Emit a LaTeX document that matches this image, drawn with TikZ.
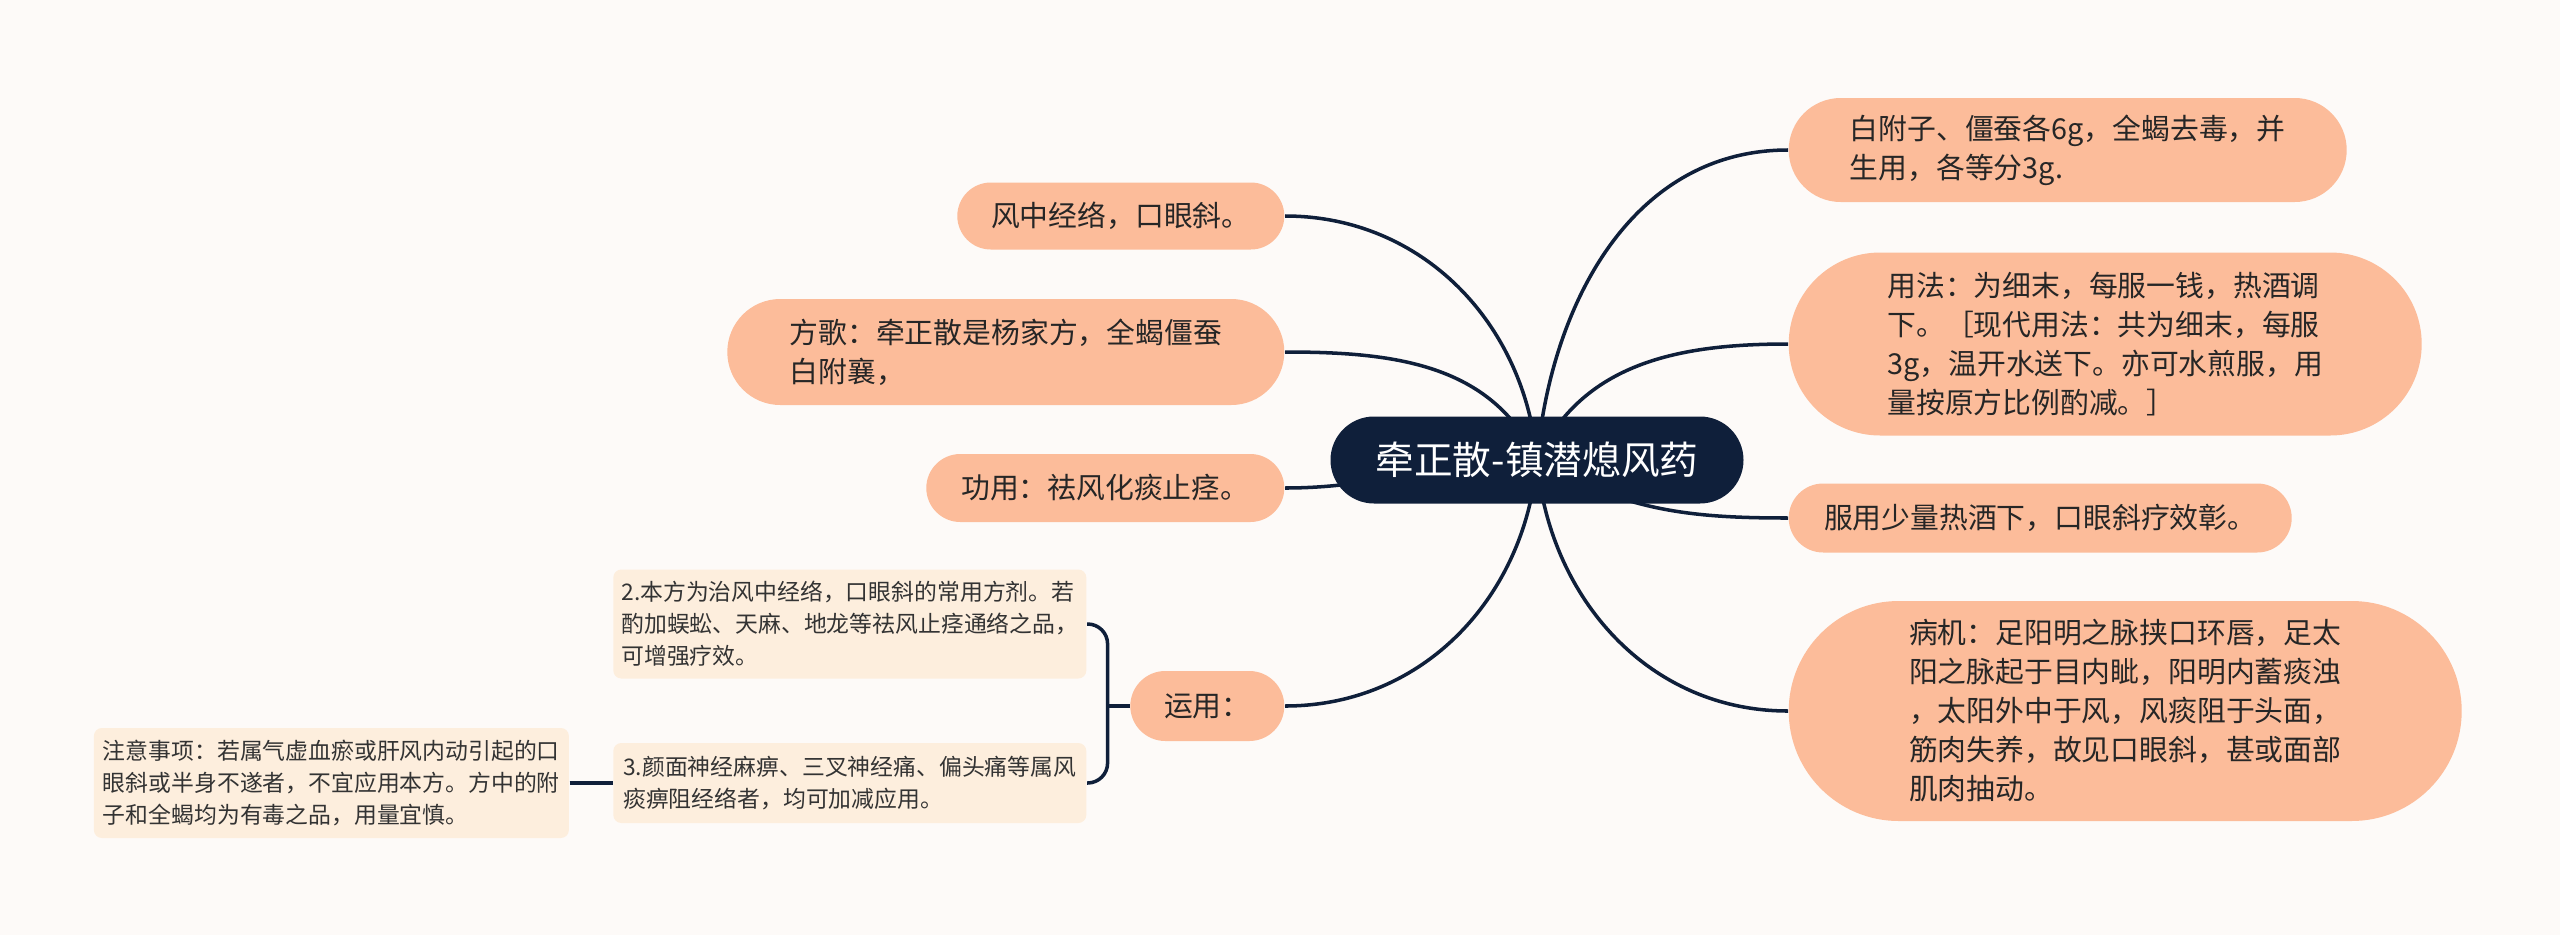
\documentclass[tikz,border=0pt]{standalone}
\usepackage{fontspec}
\setmainfont{Noto Sans CJK SC}
\usetikzlibrary{shapes.misc,positioning,backgrounds}
\definecolor{mapnavy}{HTML}{0F1F3A}
\definecolor{mappeach}{HTML}{FCBC9A}
\definecolor{mapcream}{HTML}{FDEEDD}
\definecolor{mappaper}{HTML}{FDFAF8}
\tikzset{
  rootbox/.style={rounded rectangle, fill=mapnavy, text=white, minimum width=4.13cm, minimum height=0.87cm, inner sep=0pt, font=\fontsize{11}{13}\selectfont},
  leaf/.style={rounded rectangle, fill=mappeach, text=black!85, inner sep=0pt, align=left, font=\fontsize{8.2}{11.1}\selectfont},
  note/.style={rectangle, rounded corners=0.08cm, fill=mapcream, text=black!80, inner sep=0pt, align=left, font=\fontsize{6.5}{9.1}\selectfont},
  link/.style={draw=mapnavy, line width=1pt}
}

\begin{document}
\begin{tikzpicture}
  \useasboundingbox (0,0) rectangle (25.6,-9.35);

  % centre topic
  \node[rootbox] (root) at (15.37,-4.60) {牵正散-镇潜熄风药};

  % right branches
  \node[leaf, anchor=west, minimum width=5.58cm, minimum height=1.04cm] (dose) at (17.88,-1.50)
    {白附子、僵蚕各6g，全蝎去毒，并\\生用，各等分3g.};
  \node[leaf, anchor=west, minimum width=6.33cm, minimum height=1.83cm] (usage) at (17.88,-3.44)
    {用法：为细末，每服一钱，热酒调\\下。［现代用法：共为细末，每服\\3g，温开水送下。亦可水煎服，用\\量按原方比例酌减。］};
  \node[leaf, anchor=west, minimum width=5.03cm, minimum height=0.69cm] (effect) at (17.88,-5.18)
    {服用少量热酒下，口眼斜疗效彰。};
  \node[leaf, anchor=west, minimum width=6.73cm, minimum height=2.20cm] (cause) at (17.88,-7.11)
    {病机：足阳明之脉挟口环唇，足太\\阳之脉起于目内眦，阳明内蓄痰浊\\，太阳外中于风，风痰阻于头面，\\筋肉失养，故见口眼斜，甚或面部\\肌肉抽动。};

  % left branches
  \node[leaf, anchor=east, minimum width=3.27cm, minimum height=0.67cm] (zheng) at (12.85,-2.16)
    {风中经络，口眼斜。};
  \node[leaf, anchor=east, minimum width=5.57cm, minimum height=1.06cm] (song) at (12.85,-3.52)
    {方歌：牵正散是杨家方，全蝎僵蚕\\白附襄，};
  \node[leaf, anchor=east, minimum width=3.58cm, minimum height=0.68cm] (gong) at (12.85,-4.88)
    {功用：祛风化痰止痉。};
  \node[leaf, anchor=east, minimum width=1.54cm, minimum height=0.70cm] (yun) at (12.85,-7.06)
    {运用：};

  % sub topics of yun
  \node[note, anchor=east, minimum width=4.73cm, minimum height=1.09cm] (use2) at (10.87,-6.24)
    {2.本方为治风中经络，口眼斜的常用方剂。若\\酌加蜈蚣、天麻、地龙等祛风止痉通络之品，\\可增强疗效。};
  \node[note, anchor=east, minimum width=4.73cm, minimum height=0.80cm] (use3) at (10.87,-7.83)
    {3.颜面神经麻痹、三叉神经痛、偏头痛等属风\\痰痹阻经络者，均可加减应用。};
  \node[note, minimum width=4.75cm, minimum height=1.10cm, left=0.43cm of use3] (caution)
    {注意事项：若属气虚血瘀或肝风内动引起的口\\眼斜或半身不遂者，不宜应用本方。方中的附\\子和全蝎均为有毒之品，用量宜慎。};

  \begin{scope}[on background layer]
    \fill[mappaper] (0,0) rectangle (25.6,-9.35);
    % curves out of the centre topic
    \draw[link] (root.center) to[out=95,in=0] (zheng.east);
    \draw[link] (root.center) to[out=115,in=0] (song.east);
    \draw[link] (root.center) to[out=180,in=0] (gong.east);
    \draw[link] (root.center) to[out=-95,in=0] (yun.east);
    \draw[link] (root.center) to[out=85,in=180] (dose.west);
    \draw[link] (root.center) to[out=65,in=180] (usage.west);
    \draw[link] (root.center) to[out=-30,in=180] (effect.west);
    \draw[link] (root.center) to[out=-85,in=180] (cause.west);
    % bracket
    \draw[link] (yun.west) -- ++(-0.22,0) coordinate (fork);
    \draw[link, rounded corners=0.2cm] (use2.east) -| (fork) |- (use3.east);
    \draw[link] (caution.east) -- (use3.west);
  \end{scope}
\end{tikzpicture}
\end{document}
